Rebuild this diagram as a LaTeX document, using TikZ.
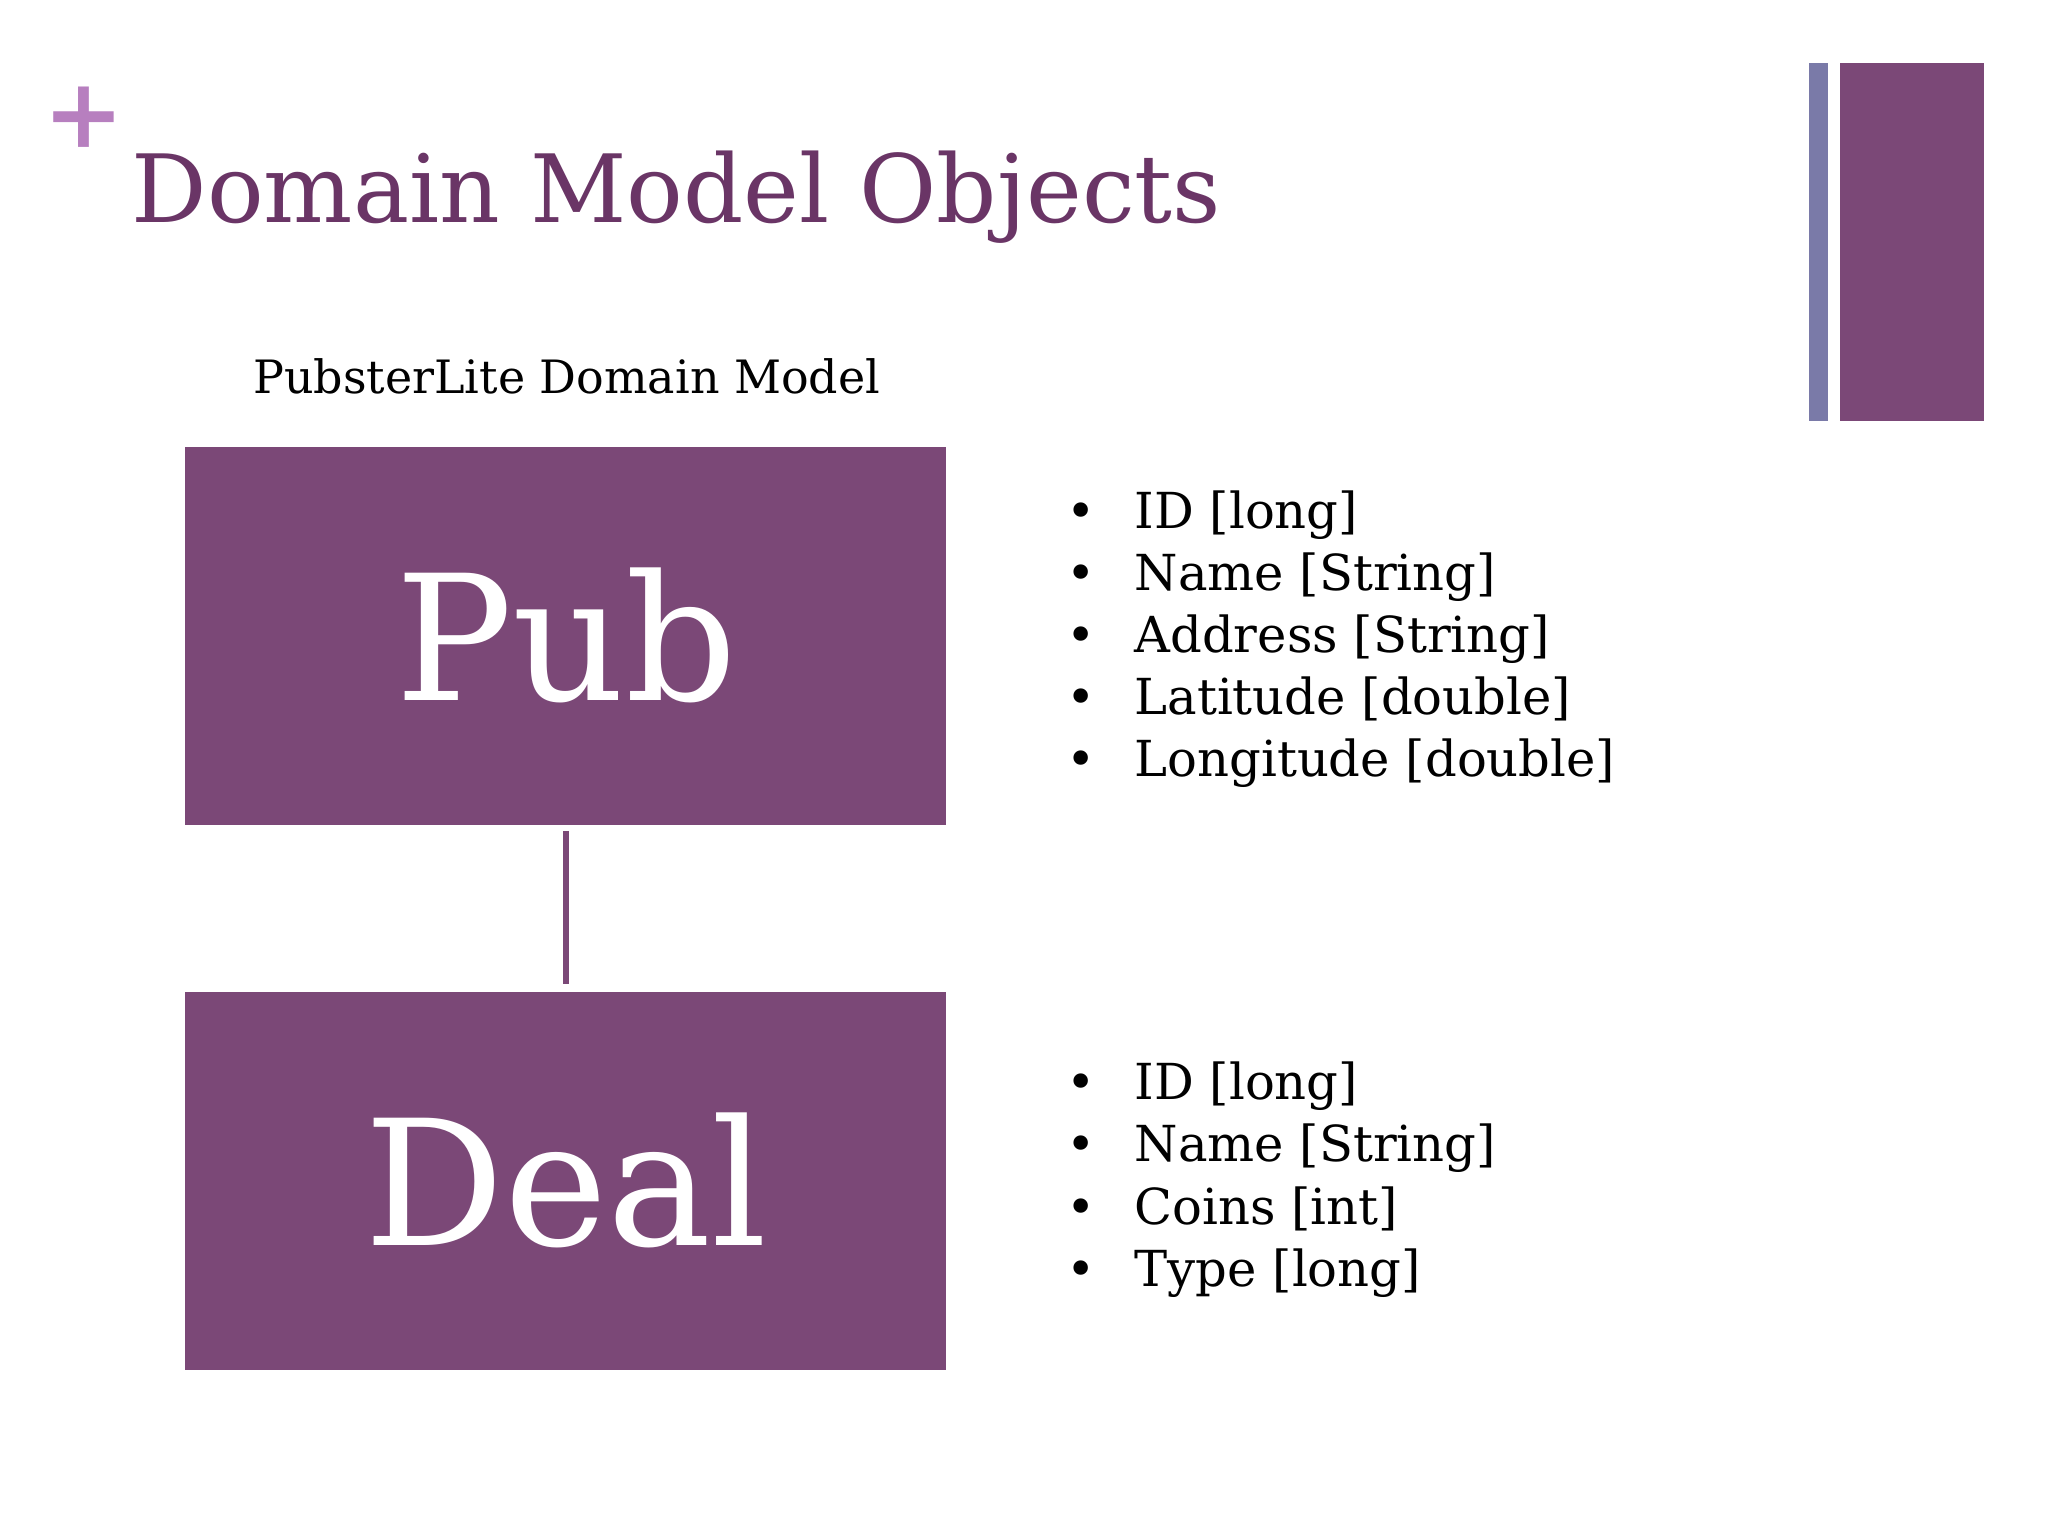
\documentclass[tikz,border=0pt]{standalone}
\usepackage{fontspec}
\setmainfont{DejaVu Serif}
\usetikzlibrary{positioning}
\definecolor{plum}{HTML}{7B4877}
\definecolor{lilac}{HTML}{B77FBF}
\definecolor{slate}{HTML}{7A7AA8}
\definecolor{titleplum}{HTML}{6A3566}
\tikzset{
	entity/.style={fill=plum, text=white, minimum width=5.82cm, minimum height=2.89cm, inner sep=0pt, font=\fontsize{38}{38}\selectfont},
	attrs/.style={anchor=north west, align=left, font=\fontsize{10.8}{13.5}\selectfont, inner sep=0pt}
}
\begin{document}
\begin{tikzpicture}[x=0.01cm, y=-0.01cm]
		\useasboundingbox (0,0) rectangle (1567,1175);
		
		\node[text=lilac, font=\fontsize{21}{21}\selectfont\bfseries] (plus) at (64,90) {+};
		\node[anchor=base west, text=titleplum, font=\fontsize{20.5}{20.5}\selectfont, inner sep=0pt] (title) at (100,170) {Domain Model Objects};
		
		\fill[slate] (1384,48) rectangle (1399,322);
		\fill[plum] (1408,48) rectangle (1518,322);
		
		\node[anchor=base west, font=\fontsize{10}{12}\selectfont, inner sep=0pt] (caption) at (193,301) {PubsterLite Domain Model};
		
		\node[entity] (pub) at (433,486.5) {Pub};
		\node[entity] (deal) at (433,903.5) {Deal};
		\draw[plum, line width=1.4pt] ([yshift=-0.04cm]pub.south) -- ([yshift=0.05cm]deal.north);
		
		\node[attrs] (pubattrs) at (815,375) {%
			\textbullet\hspace{0.3cm}ID [long]\\
			\textbullet\hspace{0.3cm}Name [String]\\
			\textbullet\hspace{0.3cm}Address [String]\\
			\textbullet\hspace{0.3cm}Latitude [double]\\
			\textbullet\hspace{0.3cm}Longitude [double]};
		
		\node[attrs] (dealattrs) at (815,812) {%
			\textbullet\hspace{0.3cm}ID [long]\\
			\textbullet\hspace{0.3cm}Name [String]\\
			\textbullet\hspace{0.3cm}Coins [int]\\
			\textbullet\hspace{0.3cm}Type [long]};
		
	\end{tikzpicture}
\end{document}
